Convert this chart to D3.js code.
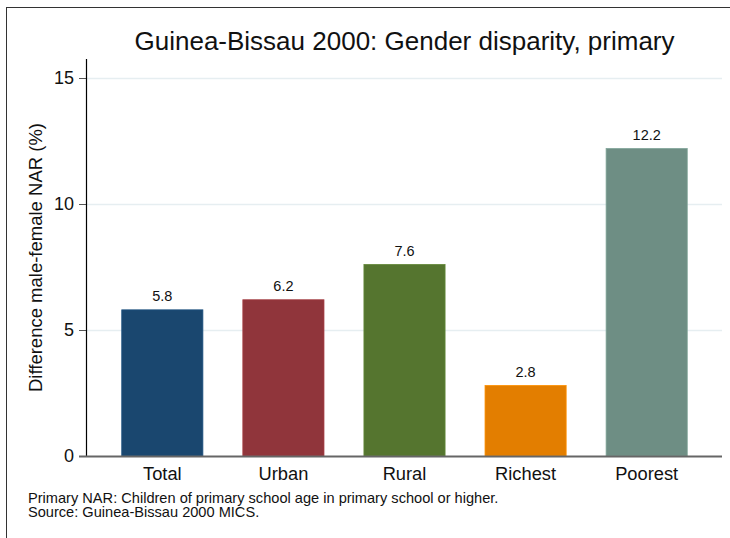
<!DOCTYPE html>
<html lang="en">
<style>
body { margin: 0; background: white; }
svg { display: block; font-family: "Liberation Sans", Arial, sans-serif; }
.grid line { stroke: #e6eef1; stroke-width: 1.5px; }
.grid .domain { display: none; }
.yaxis text, .xaxis text { fill: #111; }
</style>
<svg width="730" height="538"></svg>
<script src="https://d3js.org/d3.v7.min.js"></script>
<script>
var categories = ['Total', 'Urban', 'Rural', 'Richest', 'Poorest'];
var values = [5.8, 6.2, 7.6, 2.8, 12.2];
var colors = ['#1a476f', '#90353b', '#55752f', '#e37e00', '#6e8e84'];
var yTicks = [0, 5, 10, 15];

var svg = d3.select("svg");

// outer frame (runs off the bottom/right of the picture)
svg.append("rect")
    .attr("x", 6.5).attr("y", 7.5)
    .attr("width", 740).attr("height", 560)
    .attr("fill", "none")
    .attr("stroke", "#333")
    .attr("stroke-width", 1);

var plotL = 87, plotR = 722, plotT = 59, plotB = 456;

var yScale = d3.scaleLinear()
    .domain([0, 15])
    .range([plotB, 78]);

var xScale = d3.scaleBand()
    .domain(categories)
    .range([plotL, plotR])
    .paddingInner(0.33)
    .paddingOuter(0.287);

// gridlines
svg.append("g")
    .attr("class", "grid")
    .attr("transform", "translate(" + plotL + ",0)")
    .call(d3.axisRight(yScale)
        .tickValues(yTicks.slice(1))
        .tickSize(plotR - plotL)
        .tickFormat(""));

// bars
svg.append("g").selectAll("rect")
    .data(values)
    .enter().append("rect")
        .attr("x", function(d, i) { return xScale(categories[i]); })
        .attr("y", function(d) { return yScale(d); })
        .attr("width", xScale.bandwidth())
        .attr("height", function(d) { return yScale(0) - yScale(d); })
        .attr("fill", function(d, i) { return colors[i]; })
        .attr("stroke", function(d, i) { return d3.color(colors[i]).brighter(0.4); })
        .attr("stroke-width", 0.8);

// value labels
svg.append("g").selectAll("text")
    .data(values)
    .enter().append("text")
        .attr("x", function(d, i) { return xScale(categories[i]) + xScale.bandwidth() / 2; })
        .attr("y", function(d) { return yScale(d) - 8.5; })
        .attr("text-anchor", "middle")
        .style("font-size", "14.5px")
        .attr("fill", "#111")
        .text(function(d) { return d.toFixed(1); });

// y axis
var yAxis = svg.append("g")
    .attr("class", "yaxis")
    .attr("transform", "translate(" + plotL + ",0)")
    .call(d3.axisLeft(yScale)
        .tickValues(yTicks)
        .tickSize(8)
        .tickPadding(5)
        .tickFormat(d3.format("d")));
yAxis.select(".domain").remove();
yAxis.selectAll(".tick line").attr("stroke", "#555");
yAxis.selectAll("text").style("font-size", "18px");
svg.append("line")
    .attr("x1", plotL - 0.5).attr("x2", plotL - 0.5)
    .attr("y1", plotT).attr("y2", plotB)
    .attr("stroke", "#000").attr("stroke-width", 1.2);

// x axis
var xAxis = svg.append("g")
    .attr("class", "xaxis")
    .attr("transform", "translate(0," + plotB + ")")
    .call(d3.axisBottom(xScale).tickSize(0).tickPadding(11.5).tickSizeOuter(0));
xAxis.select(".domain").remove();
xAxis.selectAll("text").style("font-size", "18.3px");
svg.append("line")
    .attr("x1", plotL - 8).attr("x2", plotR)
    .attr("y1", plotB + 0.5).attr("y2", plotB + 0.5)
    .attr("stroke", "#666").attr("stroke-width", 2);

// title
svg.append("text")
    .attr("x", (plotL + plotR) / 2)
    .attr("y", 50)
    .attr("text-anchor", "middle")
    .style("font-size", "26px")
    .attr("fill", "#111")
    .text("Guinea-Bissau 2000: Gender disparity, primary");

// y axis title
svg.append("text")
    .attr("transform", "translate(42," + (plotT + plotB) / 2 + ") rotate(-90)")
    .attr("text-anchor", "middle")
    .style("font-size", "18.5px")
    .attr("fill", "#111")
    .text("Difference male-female NAR (%)");

// notes
var notes = ["Primary NAR: Children of primary school age in primary school or higher.",
             "Source: Guinea-Bissau 2000 MICS."];
svg.append("g").selectAll("text")
    .data(notes)
    .enter().append("text")
        .attr("x", 28)
        .attr("y", function(d, i) { return 503 + i * 13.6; })
        .style("font-size", "14.6px")
        .attr("fill", "#111")
        .text(function(d) { return d; });
</script>
